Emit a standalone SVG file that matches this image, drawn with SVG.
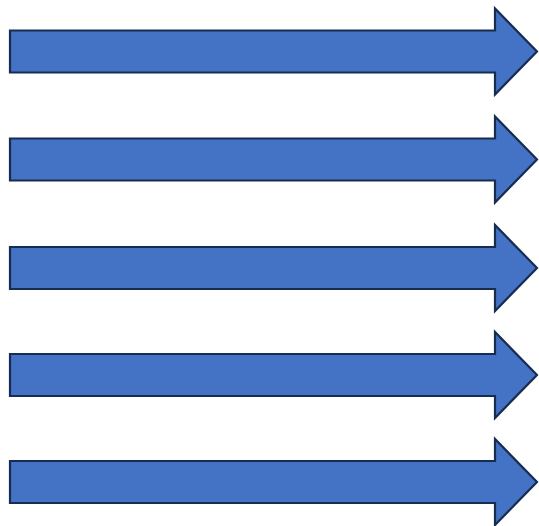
<svg xmlns="http://www.w3.org/2000/svg" width="539" height="526" viewBox="0 0 539 526">
<defs>
<style>
.arrow{fill:#4472C4;stroke:#172C51;stroke-width:2.2;stroke-linejoin:miter}
</style>
<path id="arr" d="M10,-21 L495,-21 L495,-43 L537,0 L495,43 L495,21 L10,21 Z"/>
</defs>
<rect width="539" height="526" fill="#FFFFFF"/>
<g id="arrow1"><use href="#arr" class="arrow" transform="translate(0,51.5)"/></g>
<g id="arrow2"><use href="#arr" class="arrow" transform="translate(0,159.5)"/></g>
<g id="arrow3"><use href="#arr" class="arrow" transform="translate(0,268)"/></g>
<g id="arrow4"><use href="#arr" class="arrow" transform="translate(0,375)"/></g>
<g id="arrow5"><use href="#arr" class="arrow" transform="translate(0,482)"/></g>
</svg>
